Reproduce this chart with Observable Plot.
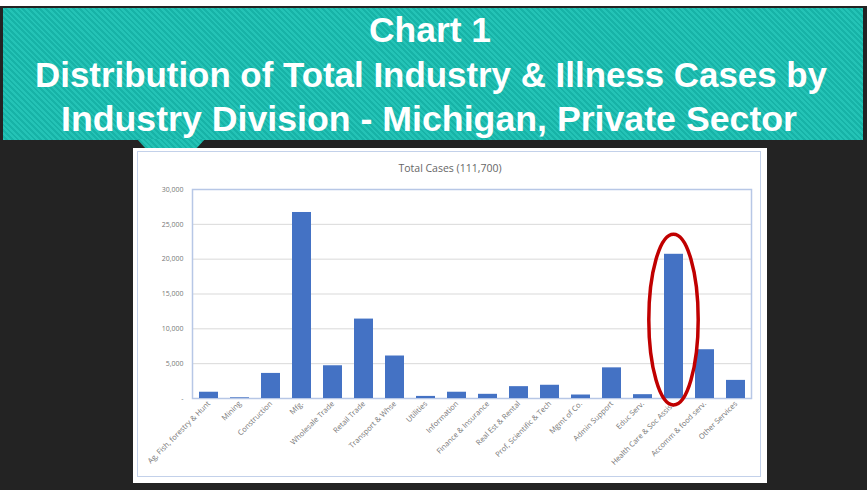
<!DOCTYPE html>
<html>
<head>
<meta charset="utf-8">
<script src="https://cdn.jsdelivr.net/npm/d3@7"></script>
<script src="https://cdn.jsdelivr.net/npm/@observablehq/plot@0.6"></script>
<style>
  html, body { margin: 0; padding: 0; background: #ffffff; }
  #page { position: relative; width: 867px; height: 490px; overflow: hidden; background: #ffffff; }
  #dark { position: absolute; left: 0; top: 6px; width: 867px; height: 484px; background: #232323; }
  #banner { position: absolute; left: 3px; top: 8px; width: 860px; height: 132px;
    background: repeating-linear-gradient(45deg, #24c3b6 0 2px, #17b3a7 2px 4px); }
  #tab { position: absolute; left: 137px; top: 139px; width: 68px; height: 9px;
    background: repeating-linear-gradient(45deg, #24c3b6 0 2px, #17b3a7 2px 4px);
    clip-path: polygon(0 0, 100% 0, 88% 100%, 12% 100%); }
  #header { position: absolute; left: 0; top: 0; overflow: visible; }
  #panel { position: absolute; left: 133px; top: 148px; width: 634px; height: 335px; background: #ffffff; }
  #panelBorder { position: absolute; left: 4px; top: 3px; width: 624px; height: 326px;
    border: 1.5px solid #c3d1ea; pointer-events: none; box-sizing: border-box; }
  #chartTitle { position: absolute; left: 0; width: 634px; top: 13px; text-align: center;
    font-family: "Open Sans", "Liberation Sans", sans-serif; font-size: 10.5px; color: #666666; }
</style>
</head>
<body>
<div id="page">
  <div id="dark"></div>
  <div id="banner"></div>
  <div id="tab"></div>
  <svg id="header" width="867" height="146">
    <g fill="#ffffff" font-family="'Liberation Sans', Arial, sans-serif" font-weight="bold" font-size="35" text-anchor="middle">
      <text id="h1" x="430" y="42"></text>
      <text id="h2" x="431" y="87"></text>
      <text id="h3" x="429" y="131"></text>
    </g>
  </svg>
  <div id="panel">
    <div id="chart"></div>
    <div id="chartTitle"></div>
    <div id="panelBorder"></div>
  </div>
</div>
<script>
// ---- Data ----
const headerLines = [
  "Chart 1",
  "Distribution of Total Industry & Illness Cases by",
  "Industry Division - Michigan, Private Sector"
];
const headerWidths = [122, 792, 736];
const chartTitle = "Total Cases (111,700)";

const categories = [
  "Ag, Fish, forestry & Hunt",
  "Mining",
  "Construction",
  "Mfg.",
  "Wholesale Trade",
  "Retail Trade",
  "Transport & Whse",
  "Utilities",
  "Information",
  "Finance & Insurance",
  "Real Est & Rental",
  "Prof, Scientific & Tech",
  "Mgmt of Co.",
  "Admin Support",
  "Educ Serv.",
  "Health Care & Soc Assist.",
  "Accomm & food serv.",
  "Other Services"
];
const cases = [
  900, 100, 3600, 26700, 4700, 11400, 6100, 300, 900,
  600, 1700, 1900, 500, 4400, 550, 20700, 7000, 2600
];
const yTicks = [0, 5000, 10000, 15000, 20000, 25000, 30000];
const highlighted = "Health Care & Soc Assist.";
const highlightSpan = [-1000, 23500];

// ---- Header ----
headerLines.forEach((t, i) => {
  const el = document.getElementById("h" + (i + 1));
  el.textContent = t;
  el.setAttribute("textLength", headerWidths[i]);
  el.setAttribute("lengthAdjust", "spacingAndGlyphs");
});
document.getElementById("chartTitle").textContent = chartTitle;

// ---- Chart ----
const data = categories.map((c, i) => ({category: c, cases: cases[i]}));
const fmt = d3.format(",");

const ellipseMark = (index, scales, values, dimensions, context) => {
  const x = scales.x, y = scales.y;
  const bw = typeof x.bandwidth === "function" ? x.bandwidth() : 18.5;
  const cx = x(highlighted) + bw / 2;
  const y0 = y(highlightSpan[0]), y1 = y(highlightSpan[1]);
  const e = document.createElementNS("http://www.w3.org/2000/svg", "ellipse");
  e.setAttribute("cx", cx);
  e.setAttribute("cy", (y0 + y1) / 2);
  e.setAttribute("rx", bw * 1.3);
  e.setAttribute("ry", Math.abs(y0 - y1) / 2);
  e.setAttribute("fill", "none");
  e.setAttribute("stroke", "#c00000");
  e.setAttribute("stroke-width", 3.5);
  return e;
};

const chart = Plot.plot({
  width: 634,
  height: 335,
  marginLeft: 59,
  marginRight: 16,
  marginTop: 41,
  marginBottom: 85,
  style: {background: "transparent", fontFamily: "'Open Sans', 'Liberation Sans', sans-serif", color: "#666666"},
  x: {domain: categories, paddingInner: 0.4, paddingOuter: 0.2, label: null},
  y: {domain: [0, 30000], label: null},
  marks: [
    Plot.gridY(yTicks, {stroke: "#d9d9d9", strokeOpacity: 1, strokeWidth: 1}),
    Plot.frame({stroke: "#b7c7e6", strokeWidth: 1.5}),
    Plot.barY(data, {x: "category", y: "cases", fill: "#4472c4"}),
    Plot.axisY(yTicks, {tickSize: 0, tickPadding: 9, fontSize: 7,
      tickFormat: d => d === 0 ? "-" : fmt(d), fill: "#777777", label: null}),
    Plot.axisX({tickRotate: -45, tickSize: 0, tickPadding: 4, fontSize: 7.5, fill: "#777777", label: null}),
    ellipseMark
  ]
});
document.getElementById("chart").appendChild(chart);
</script>
</body>
</html>
